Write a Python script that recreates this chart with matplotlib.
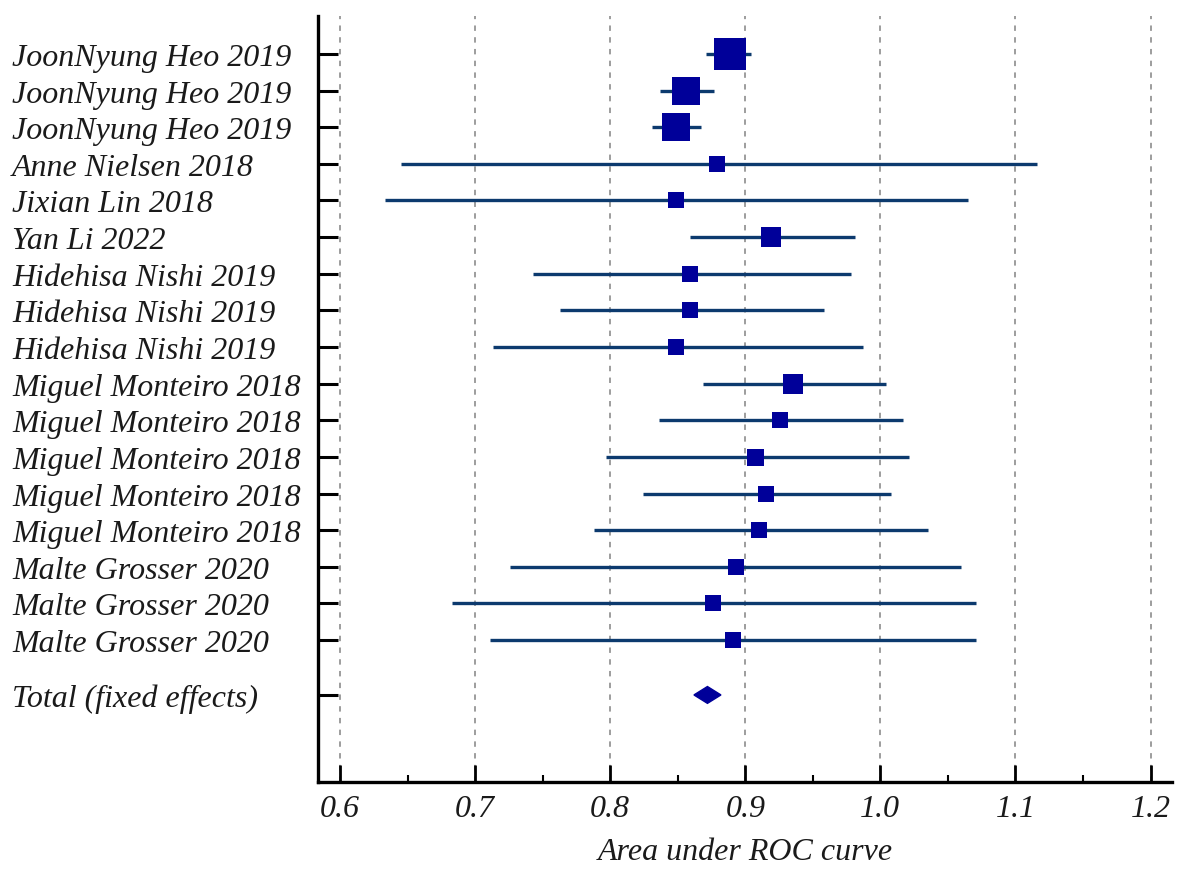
import matplotlib
matplotlib.use("Agg")
import matplotlib.pyplot as plt
from matplotlib.patches import Polygon
from matplotlib.ticker import MultipleLocator

studies = [
    "JoonNyung Heo 2019", "JoonNyung Heo 2019", "JoonNyung Heo 2019",
    "Anne Nielsen 2018", "Jixian Lin 2018", "Yan Li 2022",
    "Hidehisa Nishi 2019", "Hidehisa Nishi 2019", "Hidehisa Nishi 2019",
    "Miguel Monteiro 2018", "Miguel Monteiro 2018", "Miguel Monteiro 2018",
    "Miguel Monteiro 2018", "Miguel Monteiro 2018",
    "Malte Grosser 2020", "Malte Grosser 2020", "Malte Grosser 2020",
]
auc = [0.889, 0.856, 0.849, 0.879, 0.849, 0.919, 0.859, 0.859, 0.849,
       0.935, 0.926, 0.907, 0.915, 0.910, 0.893, 0.876, 0.891]
ci_low = [0.871, 0.837, 0.831, 0.645, 0.633, 0.859, 0.743, 0.763, 0.713,
          0.869, 0.836, 0.797, 0.824, 0.788, 0.726, 0.683, 0.711]
ci_high = [0.904, 0.877, 0.867, 1.116, 1.065, 0.981, 0.978, 0.958, 0.987,
           1.004, 1.017, 1.021, 1.008, 1.035, 1.060, 1.071, 1.071]
# relative weights (drawn as marker size)
weights = [32, 28, 28, 16, 16, 20, 16, 16, 16, 20, 16, 17, 16, 16, 16, 16, 16]

total_label = "Total (fixed effects)"
total_auc = 0.872
total_low = 0.862
total_high = 0.882

xticks = [0.6, 0.7, 0.8, 0.9, 1.0, 1.1, 1.2]
xticklabels = ["0.6", "0.7", "0.8", "0.9", "1.0", "1.1", "1.2"]

SERIF = ["Liberation Serif", "DejaVu Serif"]
LINE_C = "#0c3a6e"
BOX_C = "#000099"
TXT_C = "#1a1a1a"
FS = 23

fig = plt.figure(figsize=(11.81, 8.70), dpi=100)
ax = fig.add_axes([318/1181, 1-783/870, (1172-318)/1181, (783-17)/870])

ypos = list(range(len(studies)))
total_y = len(studies) - 1 + 1.5

for x in xticks:
    ax.axvline(x, color="#959595", lw=1.3, ls=(0, (3, 3.5)), zorder=0)

ax.hlines(ypos, ci_low, ci_high, color=LINE_C, lw=2.4, zorder=2)
for y, a, w in zip(ypos, auc, weights):
    ax.plot(a, y, marker="s", ms=w*0.72, color=BOX_C, mec=BOX_C, mew=0, zorder=3)

h = 0.23
diamond = Polygon([(total_low, total_y), (total_auc, total_y - h),
                   (total_high, total_y), (total_auc, total_y + h)],
                  closed=True, facecolor=BOX_C, edgecolor=BOX_C, lw=1, zorder=3)
ax.add_patch(diamond)

ax.set_xlim(0.5837, 1.2159)
ax.set_ylim(19.877, -1.0375)

ax.set_xticks(xticks)
ax.set_xticklabels(xticklabels, fontfamily=SERIF, fontstyle="italic",
                   fontsize=FS, color=TXT_C)
ax.xaxis.set_minor_locator(MultipleLocator(0.05))
ax.tick_params(axis="x", which="major", direction="in", length=12, width=2,
               color="black", pad=9)
ax.tick_params(axis="x", which="minor", direction="in", length=5, width=1.5,
               color="black")

ax.set_yticks(ypos + [total_y])
ax.set_yticklabels(studies + [total_label], fontfamily=SERIF,
                   fontstyle="italic", fontsize=FS, color=TXT_C)
for lbl in ax.get_yticklabels():
    lbl.set_horizontalalignment("left")
ax.tick_params(axis="y", direction="in", length=14.4, width=2.2,
               color="black", pad=(318-12)*0.72)

for s in ["top", "right"]:
    ax.spines[s].set_visible(False)
for s in ["left", "bottom"]:
    ax.spines[s].set_linewidth(2.4)
    ax.spines[s].set_color("black")

ax.set_xlabel("Area under ROC curve", fontfamily=SERIF, fontstyle="italic",
              fontsize=FS, color=TXT_C, labelpad=10)

fig.savefig("out.png", dpi=100)
